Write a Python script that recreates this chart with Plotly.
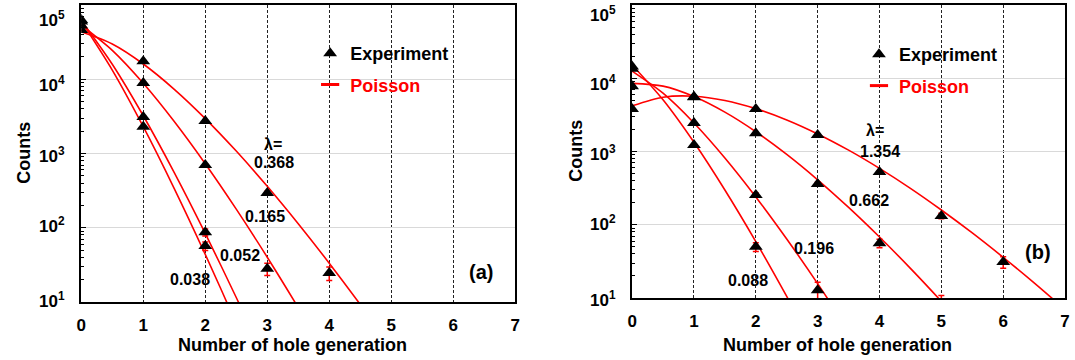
import plotly.graph_objects as go

# ---------------- Panel (a) : experiment (counts) ----------------
a_lams = ["0.038", "0.052", "0.165", "0.368"]
a_x038 = [0, 1, 2]
a_y038 = [63000, 2300, 57]
a_e038 = [250, 48, 7.5]
a_x052 = [0, 1, 2]
a_y052 = [60000, 3100, 87]
a_e052 = [245, 56, 9.3]
a_x165 = [0, 1, 2, 3]
a_y165 = [53000, 8900, 700, 28]
a_e165 = [230, 94, 26, 5.3]
a_x368 = [0, 1, 2, 3, 4]
a_y368 = [46000, 17500, 2750, 294, 24.5]
a_e368 = [215, 132, 52, 17, 5]

# Panel (a): Poisson fit curves
a_cx038 = [0, 0.5, 1, 1.5, 2, 2.5, 3]
a_cy038 = [60500, 13306, 2299, 337, 43.7, 5.12, 0.553]
a_cx052 = [0, 0.5, 1, 1.5, 2, 2.5, 3]
a_cy052 = [62000, 15954, 3224, 553, 83.8, 11.5, 1.45]
a_cx165 = [0, 0.5, 1, 1.5, 2, 2.5, 3, 3.5, 4]
a_cy165 = [53500, 24522, 8828, 2697, 728, 178, 40.1, 8.39, 1.65]
a_cx368 = [0, 0.5, 1, 1.5, 2, 2.5, 3, 3.5, 4, 4.5, 5]
a_cy368 = [43600, 29846, 16045, 7322, 2952, 1078, 362, 113.3, 33.3, 9.27, 2.45]

# ---------------- Panel (b) ----------------
b_lams = ["0.088", "0.196", "0.662", "1.354"]
b_x088 = [0, 1, 2]
b_y088 = [14500, 1230, 50]
b_e088 = [120, 35, 7]
b_x196 = [0, 1, 2, 3]
b_y196 = [13500, 2450, 255, 12.8]
b_e196 = [116, 50, 16, 3.6]
b_x662 = [0, 1, 2, 3, 4, 5]
b_y662 = [7800, 5600, 1780, 360, 56, 8]
b_e662 = [88, 75, 42, 19, 7.5, 2.8]
b_x1354 = [0, 1, 2, 3, 4, 5, 6]
b_y1354 = [3800, 5500, 3800, 1680, 525, 132, 31]
b_e1354 = [62, 74, 62, 41, 23, 11.5, 5.6]

b_cx088 = [0, 0.5, 1, 1.5, 2, 2.5, 3]
b_cy088 = [15200, 5088, 1338, 298.5, 58.9, 10.5, 1.73]
b_cx196 = [0, 0.5, 1, 1.5, 2, 2.5, 3, 3.5]
b_cy196 = [12500, 6244, 2450, 816, 240, 63.9, 15.7, 3.58]
b_cx662 = [0, 0.5, 1, 1.5, 2, 2.5, 3, 3.5, 4, 4.5, 5, 5.5]
b_cy662 = [8500, 7804, 5627, 3444, 1862, 912, 411, 172.5, 68.0, 25.4, 9.0, 3.05]
b_cx1354 = [0, 0.5, 1, 1.5, 2, 2.5, 3, 3.5, 4, 4.5, 5, 5.5, 6, 6.5, 7]
b_cy1354 = [4200, 5515, 5687, 4978, 3850, 2696, 1738, 1043, 588, 314, 159, 77.3, 35.9, 16.1, 6.95]

x_ticks = [0, 1, 2, 3, 4, 5, 6, 7]
y_tick_text = ["10<sup>1</sup>", "10<sup>2</sup>", "10<sup>3</sup>", "10<sup>4</sup>", "10<sup>5</sup>"]

W, H = 1075, 360
FONT = "Liberation Sans, Arial, sans-serif"
RED = "#ff0000"

fig = go.Figure()

panels = [
    ("x", "y", "legend",
     [(a_cx038, a_cy038), (a_cx052, a_cy052), (a_cx165, a_cy165), (a_cx368, a_cy368)],
     [(a_x038, a_y038, a_e038), (a_x052, a_y052, a_e052), (a_x165, a_y165, a_e165), (a_x368, a_y368, a_e368)]),
    ("x2", "y2", "legend2",
     [(b_cx088, b_cy088), (b_cx196, b_cy196), (b_cx662, b_cy662), (b_cx1354, b_cy1354)],
     [(b_x088, b_y088, b_e088), (b_x196, b_y196, b_e196), (b_x662, b_y662, b_e662), (b_x1354, b_y1354, b_e1354)]),
]

for xa, ya, leg, curves, exps in panels:
    for cx, cy in curves:
        fig.add_trace(go.Scatter(x=cx, y=cy, xaxis=xa, yaxis=ya, mode="lines",
                                 line=dict(color=RED, width=1.6, shape="spline", smoothing=0.8),
                                 showlegend=False, hoverinfo="skip"))
    for i, (ex, ey, ee) in enumerate(exps):
        fig.add_trace(go.Scatter(x=ex, y=ey, xaxis=xa, yaxis=ya, mode="markers",
                                 marker=dict(symbol="triangle-up", size=12, color="black"),
                                 error_y=dict(type="data", array=ee, visible=True, color=RED,
                                              thickness=1.5, width=3),
                                 name="Experiment", legend=leg, legendgroup=leg + "e",
                                 legendrank=1, showlegend=(i == 0)))
    fig.add_trace(go.Scatter(x=[None], y=[None], xaxis=xa, yaxis=ya, mode="markers",
                             marker=dict(symbol="line-ew", size=13, color=RED,
                                         line=dict(color=RED, width=3)),
                             name='<span style="color:#ff0000">Poisson</span>', legend=leg,
                             legendgroup=leg + "p", legendrank=2))

xa_common = dict(range=[0, 7], tickvals=x_ticks, showgrid=True, gridcolor="#222222",
                 griddash="3px,2px", gridwidth=1, showline=True, linecolor="black", linewidth=2,
                 mirror=True, ticks="", zeroline=False, ticklabelstandoff=7,
                 tickfont=dict(family=FONT, size=17, color="black", weight="bold"))
ya_common = dict(type="log", range=[1, 5], dtick=1, showgrid=True, gridcolor="#d9d9d9", gridwidth=1,
                 showticklabels=False, ticks="inside", ticklen=5, tickcolor="black",
                 minor=dict(ticks="inside", ticklen=3, tickcolor="black", dtick="D1", showgrid=False),
                 showline=True, linecolor="black", linewidth=2, mirror=True, zeroline=False)

fig.update_layout(
    width=W, height=H, margin=dict(l=0, r=0, t=0, b=0),
    paper_bgcolor="white", plot_bgcolor="white",
    xaxis=dict(domain=[77 / W, 515 / W], anchor="y", **xa_common),
    yaxis=dict(domain=[1 - 302 / H, 1 - 5 / H], anchor="x", **ya_common),
    xaxis2=dict(domain=[633 / W, 1070 / W], anchor="y2", **xa_common),
    yaxis2=dict(domain=[1 - 298 / H, 1 - 5 / H], anchor="x2", **ya_common),
    legend=dict(x=308 / W, y=1 - 35 / H, xanchor="left", yanchor="top", bgcolor="rgba(0,0,0,0)",
                tracegroupgap=5, font=dict(family=FONT, size=18, color="black", weight="bold")),
    legend2=dict(x=862 / W, y=1 - 36 / H, xanchor="left", yanchor="top", bgcolor="rgba(0,0,0,0)",
                 tracegroupgap=5, font=dict(family=FONT, size=18, color="black", weight="bold")),
    showlegend=True,
)

ann = []
def text(px, py, s, size=16, anchor="center", angle=0, color="black"):
    ann.append(dict(x=px / W, y=1 - py / H, xref="paper", yref="paper", text=s, showarrow=False,
                    xanchor=anchor, yanchor="middle", textangle=angle,
                    font=dict(family=FONT, size=size, color=color, weight="bold")))

# y tick labels
for lbl, py in zip(y_tick_text, [303, 228, 158, 87, 22]):
    text(63, py - 3, lbl, size=17, anchor="right")
for lbl, py in zip(y_tick_text, [302, 226, 156, 86, 17]):
    text(619, py - 3, lbl, size=17, anchor="right")

# axis titles
text(290, 345, "Number of hole generation", size=18)
text(840, 345, "Number of hole generation", size=18)
text(19, 153, "Counts", size=18, angle=-90)
text(576, 151, "Counts", size=18, angle=-90)

# lambda labels
text(271, 144, "λ=")
text(272, 163, a_lams[3])
text(262, 216, a_lams[2])
text(237, 255, a_lams[1])
text(187, 279, a_lams[0])
text(878, 130, "λ=")
text(883, 151, b_lams[3])
text(872, 200, b_lams[2])
text(817, 248, b_lams[1])
text(750, 280, b_lams[0])
text(480, 272, "(a)", size=20)
text(1043, 252, "(b)", size=20)

fig.update_layout(annotations=ann)
fig.write_html("out.html")
